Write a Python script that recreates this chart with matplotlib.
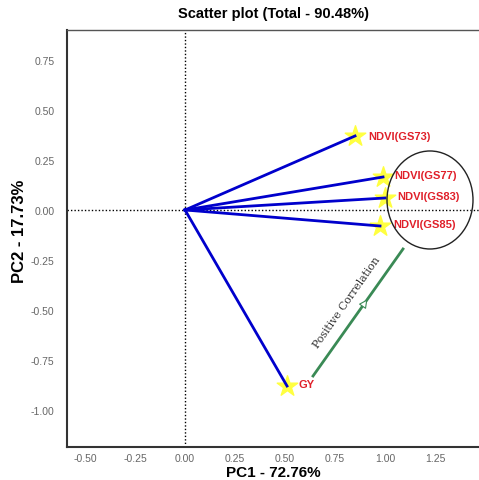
import numpy as np
import matplotlib.pyplot as plt
from matplotlib.patches import Ellipse

plt.rcParams['font.family'] = ['Liberation Sans', 'DejaVu Sans']

# loadings on PC1 / PC2
names = ['NDVI(GS73)', 'NDVI(GS77)', 'NDVI(GS83)', 'NDVI(GS85)', 'GY']
pc1 = [0.85, 0.99, 1.00, 0.975, 0.51]
pc2 = [0.37, 0.165, 0.06, -0.08, -0.88]

xticks = [-0.50, -0.25, 0.00, 0.25, 0.50, 0.75, 1.00, 1.25]
yticks = [-1.00, -0.75, -0.50, -0.25, 0.00, 0.25, 0.50, 0.75]

fig = plt.figure(figsize=(4.79, 4.81), dpi=100)
ax = fig.add_axes([0.140, 0.0686, 0.860, 0.867])

ax.axvline(0, color='black', ls=(0, (1, 1.5)), lw=1, zorder=1)
ax.axhline(0, color='black', ls=(0, (1, 1.5)), lw=1, zorder=1)

ax.scatter(pc1, pc2, marker='*', s=240, color='#ffff40', zorder=2)
for x, y in zip(pc1, pc2):
    ax.plot([0, x], [0, y], color='#0000cc', lw=2, zorder=3)

offs = [(0.065, 0.0), (0.055, 0.01), (0.06, 0.01), (0.065, 0.01), (0.055, 0.01)]
for n, x, y, o in zip(names, pc1, pc2, offs):
    ax.text(x + o[0], y + o[1], n, color='#e0202a', fontsize=8, fontweight='bold',
            ha='left', va='center', zorder=4)

# circle around the group of NDVI vectors
ax.add_patch(Ellipse((1.225, 0.05), 0.43, 0.49, fill=False, ec='#222222', lw=1, zorder=4))

# positive correlation arrow
ax.plot([0.64, 1.09], [-0.83, -0.195], color='#3a8a55', lw=2, zorder=3)
ax.annotate('', xy=(0.92, -0.435), xytext=(0.85, -0.535),
            arrowprops=dict(arrowstyle='-|>', fc='white', ec='#3a8a55', lw=0.8,
                            mutation_scale=13), zorder=5)
ax.text(0.81, -0.46, 'Positive Correlation', rotation=55, family='serif',
        fontsize=7.8, color='#333333', ha='center', va='center')

ax.set_xlim(-0.59, 1.47)
ax.set_ylim(-1.185, 0.90)
ax.set_xticks(xticks)
ax.set_yticks(yticks)
ax.set_xticklabels(['%.2f' % t for t in xticks])
ax.set_yticklabels(['%.2f' % t for t in yticks])
ax.tick_params(length=0, labelsize=7.5, labelcolor='#666666')
ax.tick_params(axis='y', pad=9)
ax.tick_params(axis='x', pad=4)

for s in ['left', 'bottom']:
    ax.spines[s].set_color('#333333')
    ax.spines[s].set_linewidth(1.5)
ax.spines['top'].set_color('#555555')
ax.spines['top'].set_linewidth(1)
ax.spines['right'].set_visible(False)

ax.set_title('Scatter plot (Total - 90.48%)', fontsize=10.5, fontweight='bold', pad=9)
ax.set_xlabel('PC1 - 72.76%', fontsize=11, fontweight='bold', labelpad=2)
ax.set_ylabel('PC2 - 17.73%', fontsize=12, fontweight='bold')
ax.yaxis.set_label_coords(-0.097, 0.52)

plt.savefig('out.png', dpi=100)
